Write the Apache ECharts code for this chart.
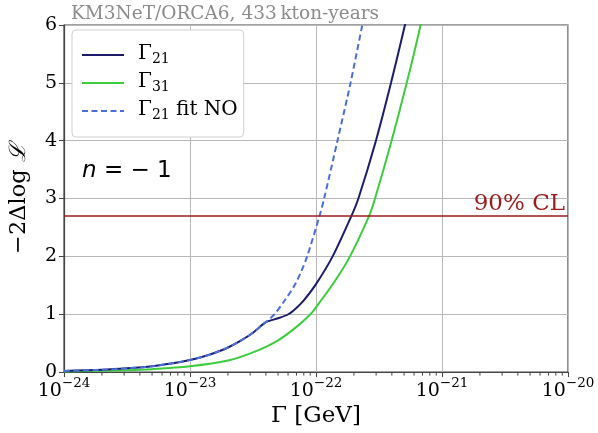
<!DOCTYPE html>
<html>
<head>
<meta charset="utf-8">
<script src="https://cdn.jsdelivr.net/npm/echarts@6/dist/echarts.min.js"></script>
<style>html,body{margin:0;padding:0;background:#fff}#c{width:598px;height:433px}</style>
</head>
<body>
<div id="c"></div>
<script>
// ---- data ----
const titleText = 'KM3NeT/ORCA6, 433\u2009kton-years';
const xTickExps = [-24, -23, -22, -21, -20];
const yTicks = [0, 1, 2, 3, 4, 5, 6];
const clLevel = 2.71;

// Γ [GeV], -2ΔlogL
const gamma21 = [
  [1e-24, 0.02], [2e-24, 0.04], [3.16e-24, 0.065], [5e-24, 0.10], [7.08e-24, 0.147],
  [1e-23, 0.21], [1.26e-23, 0.265], [1.58e-23, 0.335], [2e-23, 0.425], [2.51e-23, 0.54],
  [3.16e-23, 0.68], [3.98e-23, 0.86], [5.01e-23, 0.93], [6.03e-23, 1.0], [6.92e-23, 1.1],
  [7.94e-23, 1.23], [1e-22, 1.52], [1.355e-22, 2.0], [1.92e-22, 2.71], [2.17e-22, 3.0],
  [2.99e-22, 4.0], [3.94e-22, 5.0], [5.08e-22, 6.0], [5.75e-22, 6.5]
];
const gamma31 = [
  [1e-24, 0.01], [3.16e-24, 0.033], [5e-24, 0.05], [1e-23, 0.10], [2e-23, 0.20],
  [3.16e-23, 0.34], [5.01e-23, 0.55], [7.08e-23, 0.79], [9.02e-23, 1.0], [1e-22, 1.12],
  [1.41e-22, 1.57], [1.86e-22, 2.0], [2.65e-22, 2.71], [2.94e-22, 3.0], [3.98e-22, 4.0],
  [5.25e-22, 5.0], [6.76e-22, 6.0], [7.41e-22, 6.5]
];
const gamma21fitNO = [
  [1e-24, 0.02], [2e-24, 0.04], [3.16e-24, 0.065], [5e-24, 0.10], [7.08e-24, 0.147],
  [1e-23, 0.21], [1.26e-23, 0.265], [1.58e-23, 0.335], [2e-23, 0.425], [2.51e-23, 0.54],
  [3.16e-23, 0.68], [3.98e-23, 0.86], [4.68e-23, 1.0], [5.69e-23, 1.25], [6.76e-23, 1.5],
  [7.67e-23, 1.75], [8.51e-23, 2.0], [1.07e-22, 2.71], [1.16e-22, 3.0], [1.48e-22, 4.0],
  [1.88e-22, 5.0], [2.33e-22, 6.0], [2.57e-22, 6.45]
];

// log10 of Γ for plotting on a decade axis
const toLog = arr => arr.map(p => [Math.log10(p[0]), p[1]]);
const minorTickVals = [];
for (let i = 0; i < xTickExps.length - 1; i++)
  for (let k = 2; k <= 9; k++) minorTickVals.push([xTickExps[i] + Math.log10(k), 0]);

const serif = '"DejaVu Serif", serif';
const chart = echarts.init(document.getElementById('c'));

chart.setOption({
  animation: false,
  backgroundColor: '#fff',
  title: {
    text: titleText, left: 66, top: 0,
    textStyle: { fontFamily: serif, fontSize: 18.5, fontWeight: 'normal', color: '#8c8c8c' }
  },
  grid: { left: 64, right: 30, top: 25, bottom: 60, show: true, borderColor: '#444', borderWidth: 1.2 },
  legend: {
    data: ['G21', 'G31', 'G21fit'],
    orient: 'vertical', left: 72, top: 30,
    padding: [14, 6, 15, 9], itemGap: 6, itemWidth: 42, itemHeight: 14,
    backgroundColor: '#fff', borderColor: '#d0d0d0', borderWidth: 1, borderRadius: 4,
    itemStyle: { opacity: 0 },
    formatter: function (n) {
      if (n === 'G21') return '{g|Γ}{s|21}';
      if (n === 'G31') return '{g|Γ}{s|31}';
      return '{g|Γ}{s|21}{g| fit NO}';
    },
    textStyle: {
      padding: [0, 0, 0, 9],
      rich: {
        g: { fontFamily: serif, fontSize: 20, color: '#000', lineHeight: 22, verticalAlign: 'top' },
        s: { fontFamily: serif, fontSize: 14, color: '#000', lineHeight: 22, verticalAlign: 'bottom', padding: [7, 0, 0, 0] }
      }
    }
  },
  xAxis: {
    type: 'value', min: -24, max: -20, interval: 1,
    name: 'Γ [GeV]', nameLocation: 'middle', nameGap: 25,
    nameTextStyle: { fontFamily: serif, fontSize: 23, color: '#000' },
    axisLine: { show: true, onZero: false, lineStyle: { color: '#444', width: 1.2 } },
    axisTick: { show: true, inside: false, length: 5, lineStyle: { color: '#444' } },
    splitLine: { show: true, lineStyle: { color: '#b8b8b8', width: 1 } },
    axisLabel: {
      margin: 4,
      formatter: function (v) {
        const e = Math.round(v);
        return '{b|10}{s|' + (e < 0 ? '−' + (-e) : e) + '}';
      },
      rich: {
        b: { fontFamily: serif, fontSize: 19, color: '#000', verticalAlign: 'bottom', lineHeight: 24 },
        s: { fontFamily: serif, fontSize: 13.5, color: '#000', verticalAlign: 'top', lineHeight: 14 }
      }
    }
  },
  yAxis: {
    type: 'value', min: 0, max: 6, interval: 1,
    name: '{a|−2Δlog }{l|ℒ}', nameLocation: 'middle', nameGap: 33,
    nameTextStyle: {
      rich: {
        a: { fontFamily: serif, fontSize: 22.5, color: '#000' },
        l: { fontFamily: serif, fontSize: 22.5, color: '#000', fontStyle: 'italic' }
      }
    },
    axisLine: { show: true, lineStyle: { color: '#444', width: 1.2 } },
    axisTick: { show: true, inside: false, length: 5, lineStyle: { color: '#444' } },
    splitLine: { show: true, lineStyle: { color: '#b8b8b8', width: 1 } },
    axisLabel: { margin: 7, fontFamily: serif, fontSize: 19, color: '#000' }
  },
  graphic: [{
    type: 'text', left: 82, top: 160,
    style: {
      text: '{i|n} = − 1',
      rich: { i: { fontFamily: '"DejaVu Sans"', fontStyle: 'italic', fontSize: 23, fill: '#000' } },
      fontFamily: '"DejaVu Sans"', fontSize: 23, fill: '#000'
    }
  }],
  series: [
    {
      name: 'G21', type: 'line', data: toLog(gamma21), showSymbol: false, symbol: 'none', smooth: 0.3,
      lineStyle: { color: '#1c1c6b', width: 2 }, itemStyle: { color: '#1c1c6b' }, z: 3
    },
    {
      name: 'G31', type: 'line', data: toLog(gamma31), showSymbol: false, symbol: 'none', smooth: 0.3,
      lineStyle: { color: '#3ccd3c', width: 2 }, itemStyle: { color: '#3ccd3c' }, z: 2
    },
    {
      name: 'G21fit', type: 'line', data: toLog(gamma21fitNO), showSymbol: false, symbol: 'none', smooth: 0.3,
      lineStyle: { color: '#4a6fdc', width: 2, type: [6, 3.5] }, itemStyle: { color: '#4a6fdc' }, z: 4
    },
    {
      name: 'CL', type: 'line', data: [], z: 5,
      markLine: {
        silent: true, symbol: 'none',
        lineStyle: { color: '#9b1c1c', width: 1.5, type: 'solid' },
        label: {
          show: true, position: 'insideEndTop', formatter: '90% CL', distance: [3, 0],
          fontFamily: serif, fontSize: 23, color: '#9b1c1c'
        },
        data: [{ yAxis: clLevel }]
      }
    },
    {
      name: 'minor', type: 'custom', data: minorTickVals, clip: false, silent: true, z: 6,
      renderItem: function (params, api) {
        const p = api.coord([api.value(0), 0]);
        return { type: 'line', shape: { x1: p[0], y1: p[1], x2: p[0], y2: p[1] + 3.5 },
          style: { stroke: '#444', lineWidth: 1 } };
      }
    }
  ]
});
</script>
</body>
</html>
